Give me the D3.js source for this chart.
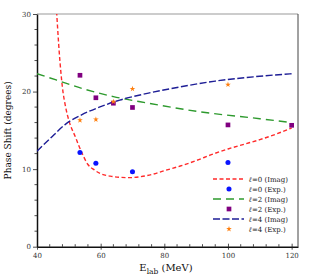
<!DOCTYPE html>
<html>
<head>
<meta charset="utf-8">
<script src="https://cdn.jsdelivr.net/npm/d3@7"></script>
<style>
  html, body { margin: 0; padding: 0; background: #fff; }
  svg { display: block; }
</style>
</head>
<body>
<svg id="chart" width="312" height="280"></svg>
<script>
// ---- data ----
const l0ImagE = [45.9, 46.2, 47, 48, 49, 50, 52, 54, 56, 58, 60, 63, 66, 69, 72, 76, 80, 85, 90, 95, 100, 105, 110, 115, 120];
const l0ImagV = [32, 30, 25, 20.5, 18, 16.3, 14.2, 12.2, 10.6, 9.9, 9.4, 9.1, 8.95, 8.9, 9.0, 9.3, 9.8, 10.4, 11.1, 11.9, 12.6, 13.2, 13.8, 14.5, 15.3];
const l2ImagE = [40, 46, 55, 64, 75, 91, 110, 120];
const l2ImagV = [22.3, 21.5, 20.3, 19.35, 18.5, 17.4, 16.5, 16.0];
const l4ImagE = [40, 44, 49, 54, 60, 66, 75, 85, 96, 108, 120];
const l4ImagV = [12.3, 13.9, 15.8, 17.0, 18.05, 18.9, 19.8, 20.6, 21.35, 21.9, 22.3];

const l0ExpE = [53.5, 58.5, 70, 100];
const l0ExpV = [12.15, 10.75, 9.65, 10.85];
const l2ExpE = [53.5, 58.5, 64, 70, 100, 120];
const l2ExpV = [22.1, 19.2, 18.5, 17.95, 15.7, 15.65];
const l4ExpE = [53.5, 58.5, 64, 70, 100];
const l4ExpV = [16.3, 16.4, 18.7, 20.35, 20.9];

const xTicks = [40, 60, 80, 100, 120];
const yTicks = [0, 10, 20, 30];
const legendLabels = ["=0 (Imag)", "=0 (Exp.)", "=2 (Imag)", "=2 (Exp.)", "=4 (Imag)", "=4 (Exp.)"];

// ---- layout ----
const svg = d3.select("#chart");
const L = 37, R = 298, T = 14, B = 246.7;
const x = d3.scaleLinear().domain([40, 122]).range([L, R]);
const y = d3.scaleLinear().domain([0, 30]).range([B, T]);
const font = "DejaVu Serif, serif";

const zip = (a, b) => a.map((v, i) => [v, b[i]]);

svg.append("defs").append("clipPath").attr("id", "clip")
  .append("rect").attr("x", L).attr("y", T).attr("width", R - L).attr("height", B - T);

// frame
svg.append("line").attr("x1", L).attr("x2", R).attr("y1", T).attr("y2", T).attr("stroke", "#999").attr("stroke-width", 1);
svg.append("line").attr("x1", R).attr("x2", R).attr("y1", T).attr("y2", B).attr("stroke", "#444").attr("stroke-width", 1);

// minor ticks
const xMinor = d3.range(40, 121, 4).filter(v => !xTicks.includes(v));
const yMinor = d3.range(0, 31, 2).filter(v => !yTicks.includes(v));
svg.append("g").selectAll("line").data(xMinor).join("line")
  .attr("x1", d => x(d)).attr("x2", d => x(d)).attr("y1", B).attr("y2", B - 2.5)
  .attr("stroke", "#222").attr("stroke-width", 0.8);
svg.append("g").selectAll("line").data(yMinor).join("line")
  .attr("x1", L).attr("x2", L - 2.5).attr("y1", d => y(d)).attr("y2", d => y(d))
  .attr("stroke", "#222").attr("stroke-width", 0.8);

// axes
const xAxis = svg.append("g").attr("transform", `translate(0,${B})`)
  .call(d3.axisBottom(x).tickValues(xTicks).tickSize(3).tickPadding(3).tickSizeOuter(0));
const yAxis = svg.append("g").attr("transform", `translate(${L},0)`)
  .call(d3.axisLeft(y).tickValues(yTicks).tickSize(4).tickPadding(2).tickSizeOuter(0));
[xAxis, yAxis].forEach(g => {
  g.select(".domain").attr("stroke", "#111").attr("stroke-width", 1.5);
  g.selectAll(".tick line").attr("stroke", "#222").attr("stroke-width", 0.8);
  g.selectAll(".tick text").attr("font-family", font).attr("font-size", 7).attr("fill", "#333");
});
xAxis.selectAll(".tick line").attr("y1", -3);

// axis titles
const xt = svg.append("text").attr("x", 166).attr("y", 271).attr("text-anchor", "middle")
  .attr("font-family", font).attr("font-size", 10).attr("fill", "#111");
xt.append("tspan").text("E");
xt.append("tspan").attr("font-size", 7.5).attr("dy", 2.5).text("lab");
xt.append("tspan").attr("dy", -2.5).text(" (MeV)");

svg.append("text").attr("transform", `translate(11,${(T + B) / 2}) rotate(-90)`)
  .attr("text-anchor", "middle").attr("font-family", font).attr("font-size", 9).attr("fill", "#111")
  .text("Phase Shift (degrees)");

// lines
const line = d3.line().x(d => x(d[0])).y(d => y(d[1])).curve(d3.curveMonotoneX);
const plot = svg.append("g").attr("clip-path", "url(#clip)");
const styles = {
  l0: { color: "#ff2a2a", dash: "4,2.5", w: 1.4 },
  l2: { color: "#2e9a2e", dash: "8,5", w: 1.4 },
  l4: { color: "#1e1e96", dash: "7,2.5", w: 1.4 }
};
plot.append("path").datum(zip(l0ImagE, l0ImagV)).attr("d", line).attr("fill", "none")
  .attr("stroke", styles.l0.color).attr("stroke-width", styles.l0.w).attr("stroke-dasharray", styles.l0.dash);
plot.append("path").datum(zip(l2ImagE, l2ImagV)).attr("d", line).attr("fill", "none")
  .attr("stroke", styles.l2.color).attr("stroke-width", styles.l2.w).attr("stroke-dasharray", styles.l2.dash);
plot.append("path").datum(zip(l4ImagE, l4ImagV)).attr("d", line).attr("fill", "none")
  .attr("stroke", styles.l4.color).attr("stroke-width", styles.l4.w).attr("stroke-dasharray", styles.l4.dash);

// points
const sym = {
  circle: d3.symbol().type(d3.symbolCircle).size(20),
  square: d3.symbol().type(d3.symbolSquare).size(22),
  diamond: d3.symbol().type(d3.symbolStar).size(10)
};
svg.append("g").selectAll("path").data(zip(l0ExpE, l0ExpV)).join("path")
  .attr("transform", d => `translate(${x(d[0])},${y(d[1])})`).attr("d", sym.circle()).attr("fill", "#0a14ff");
svg.append("g").selectAll("path").data(zip(l2ExpE, l2ExpV)).join("path")
  .attr("transform", d => `translate(${x(d[0])},${y(d[1])})`).attr("d", sym.square()).attr("fill", "#800080");
svg.append("g").selectAll("path").data(zip(l4ExpE, l4ExpV)).join("path")
  .attr("transform", d => `translate(${x(d[0])},${y(d[1])})`).attr("d", sym.diamond()).attr("fill", "#ff7f0e");

// legend
const lg = svg.append("g").attr("transform", "translate(213,179)");
const items = [
  { type: "line", s: styles.l0 },
  { type: "pt", sym: sym.circle, fill: "#0a14ff" },
  { type: "line", s: styles.l2 },
  { type: "pt", sym: sym.square, fill: "#800080" },
  { type: "line", s: styles.l4 },
  { type: "pt", sym: sym.diamond, fill: "#ff7f0e" }
];
items.forEach((it, i) => {
  const g = lg.append("g").attr("transform", `translate(0,${i * 10})`);
  if (it.type === "line") {
    g.append("line").attr("x1", 0).attr("x2", 31).attr("y1", 0).attr("y2", 0)
      .attr("stroke", it.s.color).attr("stroke-width", it.s.w).attr("stroke-dasharray", it.s.dash);
  } else {
    g.append("path").attr("transform", "translate(16,0)").attr("d", it.sym()).attr("fill", it.fill);
  }
  const t = g.append("text").attr("x", 36).attr("y", 2.6).attr("font-family", font).attr("font-size", 7).attr("fill", "#222");
  t.append("tspan").attr("font-style", "italic").text("ℓ");
  t.append("tspan").text(legendLabels[i]);
});
</script>
</body>
</html>
